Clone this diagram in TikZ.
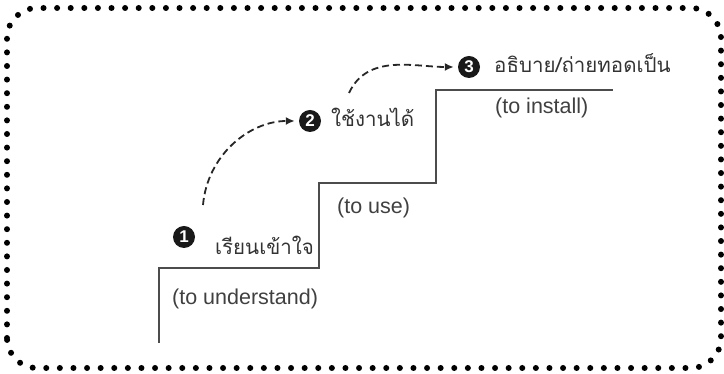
\documentclass[tikz,border=0pt]{standalone}
\usepackage{fontspec}
\setmainfont{Liberation Sans}
\newfontfamily\thaifont[Script=Thai]{Loma}
\usetikzlibrary{arrows.meta}

\tikzstyle{thai} = [anchor=base west, inner sep=0pt, font=\thaifont\fontsize{20.5}{24}\selectfont, text=black!80]
\tikzstyle{english} = [anchor=west, inner sep=0pt, font=\fontsize{21.5}{25}\selectfont, text=black!75]
\tikzstyle{number} = [circle, fill=black!90, text=white, inner sep=0pt, minimum size=22pt, font=\bfseries\fontsize{17}{17}\selectfont]
\tikzstyle{jump} = [-{Latex[length=9pt,width=8pt]}, dash pattern=on 7pt off 4pt, line width=1.8pt, black!85, shorten >=4pt]

\begin{document}
\begin{tikzpicture}[x=1pt,y=1pt]
            %
            % Frame of the whole picture
            \useasboundingbox (0,0) rectangle (724,374);
            \draw [line width=6pt, line cap=round, dash pattern=on 0pt off 13.6pt, rounded corners=30pt] (7,6) rectangle (721,366);
            %
            % The staircase
            \draw [line width=1.5pt, black!70] (159,31) -- (159,106) -- (319,106) -- (319,191) -- (436,191) -- (436,284) -- (613,284);
            %
            % Step one
            \node [number] (one) at (184,137) {1};
            \node [thai] (learn) at (215,119) {เรียนเข้าใจ};
            \node [english] (understand) at (172,75) {(to understand)};
            %
            % Step two
            \node [number] (two) at (310,253) {2};
            \node [thai] (use) at (331,247) {ใช้งานได้};
            \node [english] (touse) at (337,166) {(to use)};
            %
            % Step three
            \node [number] (three) at (469,307) {3};
            \node [thai] (teach) at (494,301) {อธิบาย/ถ่ายทอดเป็น};
            \node [english] (install) at (495,266) {(to install)};
            %
            % Dashed arrows between the steps
            \coordinate (start one) at (203,169);
            \coordinate (start two) at (349,281);
            \draw [jump] (start one) to[out=85, in=180] (two.west);
            \draw [jump] (start two) to[out=65, in=180] (three.west);
            %
\end{tikzpicture}
\end{document}
